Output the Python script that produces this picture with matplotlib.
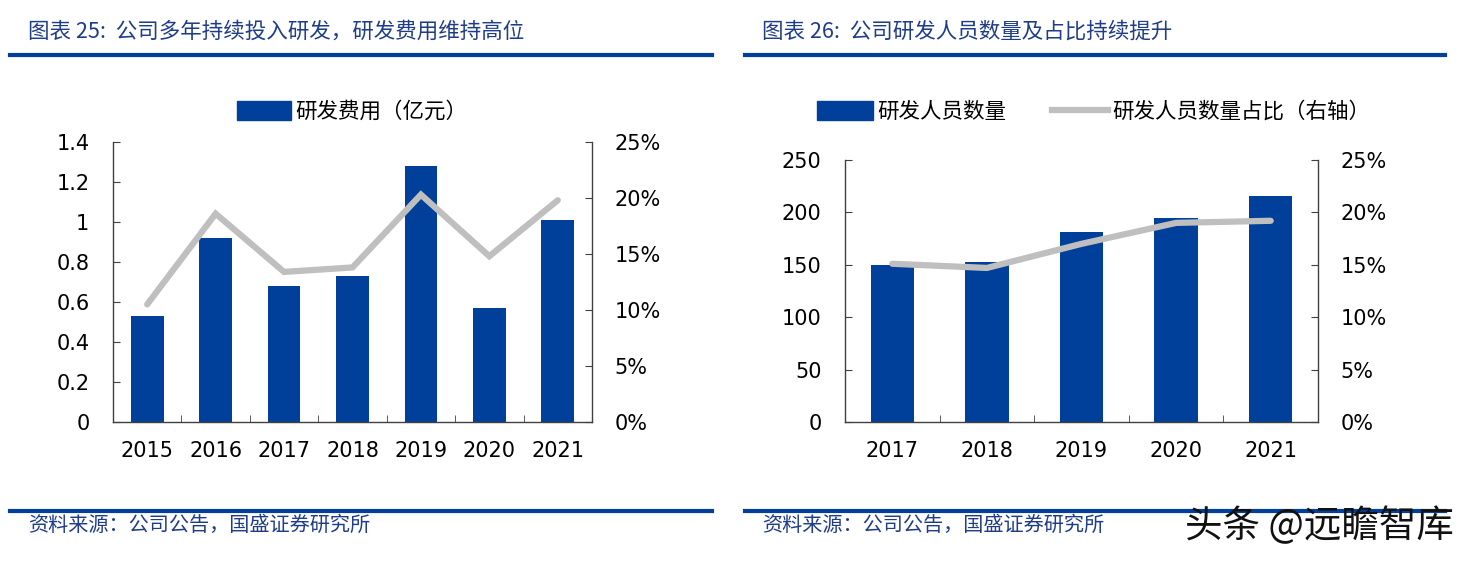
import matplotlib
matplotlib.use('Agg')
import matplotlib.pyplot as plt
from matplotlib.lines import Line2D
from matplotlib.patches import Patch
import numpy as np

plt.rcParams['font.family'] = ['Noto Sans CJK SC', 'DejaVu Sans']

BLUE = '#00409A'
GREY = '#BFBFBF'

# 图表25 data
years25 = ['2015', '2016', '2017', '2018', '2019', '2020', '2021']
rd_cost = [0.53, 0.92, 0.68, 0.73, 1.28, 0.57, 1.01]
rd_ratio25 = [10.5, 18.6, 13.4, 13.8, 20.3, 14.8, 19.8]

# 图表26 data
years26 = ['2017', '2018', '2019', '2020', '2021']
rd_staff = [150, 153, 181, 195, 216]
rd_staff_ratio = [15.1, 14.7, 17.0, 19.0, 19.2]

W, H = 1477, 563
fig = plt.figure(figsize=(W / 100, H / 100), dpi=100)

num_font = {'family': ['Liberation Sans Narrow', 'DejaVu Sans'], 'size': 15}


def px(x, y):
    return x / W, 1 - y / H


def style_axes(ax, ax2, n):
    for a in (ax, ax2):
        a.spines['top'].set_visible(False)
        for s in a.spines.values():
            s.set_color('#404040')
            s.set_linewidth(1.0)
    ax.spines['right'].set_visible(False)
    ax2.spines['left'].set_visible(False)
    ax2.spines['bottom'].set_visible(False)
    ax.set_xlim(-0.5, n - 0.5)
    ax.set_xticks(np.arange(n))
    ax.set_xticks(np.arange(n + 1) - 0.5, minor=True)
    ax.tick_params(axis='x', which='major', length=0, pad=14)
    ax.tick_params(axis='x', which='minor', direction='in', length=5, color='#404040')
    ax.tick_params(axis='y', direction='in', length=5, pad=17, color='#404040')
    ax2.tick_params(axis='y', direction='in', length=5, pad=16, color='#404040')
    for lab in ax.get_xticklabels() + ax.get_yticklabels() + ax2.get_yticklabels():
        lab.set_fontfamily(num_font['family'])
        lab.set_fontsize(num_font['size'])


def pct(v, _):
    return f'{v:.0f}%'


# ---------- left chart ----------
ax1 = fig.add_axes([113 / W, 1 - 422 / H, 479 / W, 280 / H])
x = np.arange(len(years25))
ax1.bar(x, rd_cost, width=0.48, color=BLUE, zorder=2)
ax1.set_ylim(0, 1.4)
ax1.set_yticks([0, 0.2, 0.4, 0.6, 0.8, 1.0, 1.2, 1.4])
ax1.set_yticklabels(['0', '0.2', '0.4', '0.6', '0.8', '1', '1.2', '1.4'])
ax1.set_xticklabels(years25)
ax1b = ax1.twinx()
ax1b.plot(x, rd_ratio25, color=GREY, lw=4.5, solid_capstyle='round', solid_joinstyle='miter', zorder=3)
ax1b.set_ylim(0, 25)
ax1b.set_yticks([0, 5, 10, 15, 20, 25])
ax1b.yaxis.set_major_formatter(plt.FuncFormatter(pct))
style_axes(ax1, ax1b, len(years25))
ax1.legend(handles=[Patch(color=BLUE, label='研发费用（亿元）')], loc='center',
           bbox_to_anchor=(0.5, (422 - 112) / 280), frameon=False, fontsize=15.5,
           handlelength=2.5, handleheight=1.0, handletextpad=0.2)

# ---------- right chart ----------
ax2 = fig.add_axes([845 / W, 1 - 422 / H, 473 / W, 262 / H])
x2 = np.arange(len(years26))
ax2.bar(x2, rd_staff, width=0.46, color=BLUE, zorder=2)
ax2.set_ylim(0, 250)
ax2.set_yticks([0, 50, 100, 150, 200, 250])
ax2.set_xticklabels(years26)
ax2b = ax2.twinx()
ax2b.plot(x2, rd_staff_ratio, color=GREY, lw=4.5, solid_capstyle='round', zorder=3)
ax2b.set_ylim(0, 25)
ax2b.set_yticks([0, 5, 10, 15, 20, 25])
ax2b.yaxis.set_major_formatter(plt.FuncFormatter(pct))
style_axes(ax2, ax2b, len(years26))
ax2.legend(handles=[Patch(color=BLUE, label='研发人员数量'),
                    Line2D([0], [0], color=GREY, lw=4.5, label='研发人员数量占比（右轴）')],
           loc='center', bbox_to_anchor=(0.526, (422 - 112) / 262), ncol=2, frameon=False,
           fontsize=15.5, handlelength=2.6, handleheight=1.0, handletextpad=0.2,
           columnspacing=2.1)
ax1.set_zorder(ax1b.get_zorder() - 1)
ax1.patch.set_visible(False)
ax2.set_zorder(ax2b.get_zorder() - 1)
ax2.patch.set_visible(False)

# ---------- titles, rules, sources ----------
title_color = '#1F3C88'
fig.text(*px(28, 32), '图表 25:  公司多年持续投入研发，研发费用维持高位', color=title_color,
         fontsize=15.5, fontstyle='italic', va='center', ha='left')
fig.text(*px(762, 32), '图表 26:  公司研发人员数量及占比持续提升', color=title_color,
         fontsize=15.5, fontstyle='italic', va='center', ha='left')
for (x0, x1) in [(10, 712), (745, 1445)]:
    for yy in (55, 511):
        fig.add_artist(Line2D([x0 / W, x1 / W], [1 - yy / H, 1 - yy / H], color=BLUE, lw=3))
fig.text(*px(28, 525), '资料来源：公司公告，国盛证券研究所', color=title_color,
         fontsize=14.5, fontstyle='italic', va='center', ha='left')
fig.text(*px(762, 525), '资料来源：公司公告，国盛证券研究所', color=title_color,
         fontsize=14.5, fontstyle='italic', va='center', ha='left')
fig.text(*px(1185, 527), '头条 @远瞻智库', color='#111111', fontsize=27,
         va='center', ha='left')

fig.savefig('out.png', dpi=100)
